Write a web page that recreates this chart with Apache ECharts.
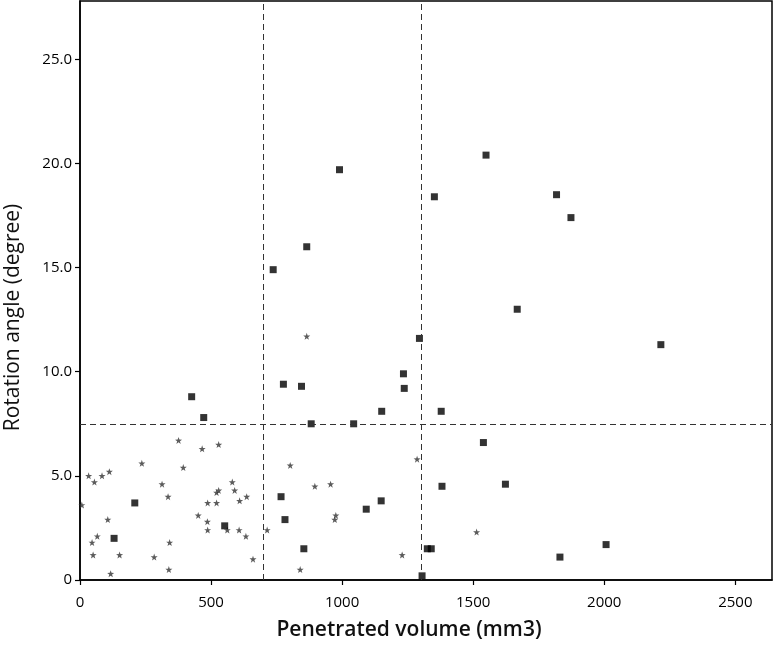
<!DOCTYPE html>
<html>
<head>
<meta charset="utf-8">
<script src="https://cdn.jsdelivr.net/npm/echarts@6/dist/echarts.min.js"></script>
<style>html,body{margin:0;padding:0;background:#fff}#c{width:774px;height:649px}</style>
</head>
<body>
<div id="c"></div>
<script>
// Squares (x: penetrated volume mm3, y: rotation angle degree)
const squareX = [130,209,426,472,552,737,767,776,782,845,854,865,882,990,1044,1092,1149,1151,1234,1237,1295,1305,1325,1340,1352,1378,1381,1539,1549,1623,1668,1818,1831,1873,2007,2216];
const squareY = [2.0,3.7,8.8,7.8,2.6,14.9,4.0,9.4,2.9,9.3,1.5,16.0,7.5,19.7,7.5,3.4,3.8,8.1,9.9,9.2,11.6,0.2,1.5,1.5,18.4,8.1,4.5,6.6,20.4,4.6,13.0,18.5,1.1,17.4,1.7,11.3];
// Stars
const starX = [7,33,55,84,112,106,46,66,50,117,151,236,283,313,336,342,339,376,394,466,529,451,487,486,487,521,521,529,562,581,590,609,636,607,633,660,714,802,840,865,896,956,976,972,1229,1286,1513];
const starY = [3.6,5.0,4.7,5.0,5.2,2.9,1.8,2.1,1.2,0.3,1.2,5.6,1.1,4.6,4.0,1.8,0.5,6.7,5.4,6.3,6.5,3.1,3.7,2.8,2.4,3.7,4.2,4.3,2.4,4.7,4.3,3.8,4.0,2.4,2.1,1.0,2.4,5.5,0.5,11.7,4.5,4.6,3.1,2.9,1.2,5.8,2.3];
// Cut-off reference lines
const xCutoffs = [700, 1300];
const yCutoffs = [7.5];
// Tick values
const xTicks = [0,500,1000,1500,2000,2500];
const yTicks = [0,5,10,15,20,25];

const starPath = 'path://M0,-10L2.35,-3.24L9.51,-3.09L3.8,1.24L5.88,8.09L0,4L-5.88,8.09L-3.8,1.24L-9.51,-3.09L-2.35,-3.24Z';
const font = 'Open Sans';

const chart = echarts.init(document.getElementById('c'), null, {renderer: 'canvas'});
chart.setOption({
  animation: false,
  backgroundColor: '#fff',
  grid: {left: 80, right: 2, top: 1, bottom: 69, show: true, borderColor: '#000', borderWidth: 1.5, backgroundColor: 'transparent', containLabel: false, outerBoundsMode: 'none'},
  xAxis: {
    type: 'value', min: 0, max: 2640, interval: 500,
    name: 'Penetrated volume (mm3)', nameLocation: 'middle', nameGap: 40,
    nameTextStyle: {fontFamily: font, fontSize: 21, color: '#111', fontWeight: 600, padding: [0, 34, 0, 0]},
    axisLine: {show: true, lineStyle: {color: '#000', width: 1.5}},
    axisTick: {show: true, length: 5, lineStyle: {color: '#000', width: 1.2}, customValues: xTicks},
    axisLabel: {fontFamily: font, fontSize: 15, color: '#000', margin: 15, customValues: xTicks, formatter: v => String(v)},
    splitLine: {show: false}
  },
  yAxis: {
    type: 'value', min: 0, max: 27.8, interval: 5,
    name: 'Rotation angle (degree)', nameLocation: 'middle', nameGap: 56,
    nameTextStyle: {fontFamily: font, fontSize: 21, color: '#111', fontWeight: 'normal', padding: [0, 54, 0, 0]},
    axisLine: {show: true, lineStyle: {color: '#000', width: 1.5}},
    axisTick: {show: true, length: 5, lineStyle: {color: '#000', width: 1.2}, customValues: yTicks},
    axisLabel: {fontFamily: font, fontSize: 15, color: '#000', margin: 8, customValues: yTicks, formatter: v => v === 0 ? '0' : v.toFixed(1)},
    splitLine: {show: false}
  },
  series: [
    {
      type: 'scatter', name: 'stars', symbol: starPath, symbolSize: 7,
      itemStyle: {color: '#333'},
      data: starX.map((x, i) => [x, starY[i]]),
      markLine: {
        silent: true, symbol: 'none', label: {show: false},
        lineStyle: {color: '#333', type: [6, 4], width: 1},
        data: xCutoffs.map(v => ({xAxis: v})).concat(yCutoffs.map(v => ({yAxis: v})))
      }
    },
    {
      type: 'scatter', name: 'squares', symbol: 'rect', symbolSize: 7,
      itemStyle: {color: '#000'},
      data: squareX.map((x, i) => [x, squareY[i]])
    }
  ]
});
</script>
</body>
</html>
